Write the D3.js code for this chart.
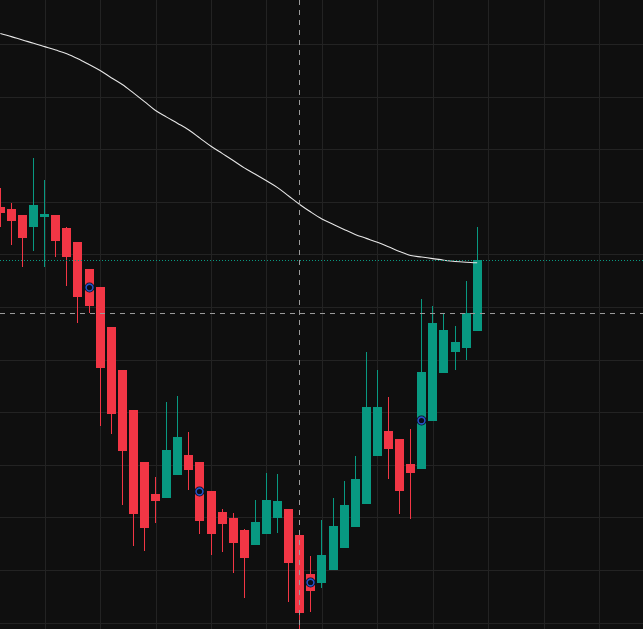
<!DOCTYPE html>
<html>
<head>
<meta charset="utf-8">
<script src="https://cdn.jsdelivr.net/npm/d3@7"></script>
<style>
  html, body { margin: 0; padding: 0; background: #0f0f0f; overflow: hidden; }
  svg { display: block; }
</style>
</head>
<body>
<svg id="chart" width="643" height="629"></svg>
<script>
// ---- data (bar index, OHLC, moving average) ----
const barIndex = d3.range(-1, 43);
const open  = [113.80,113.73,113.50,113.04,113.42,113.50,113.00,112.47,111.44,110.76,109.24,107.60,106.08,104.11,102.89,102.74,103.61,104.37,104.11,103.00,102.21,101.98,101.52,100.95,101.37,101.98,102.32,101.33,99.85,99.51,100.00,100.84,101.63,102.51,104.33,105.29,104.98,104.03,103.84,105.67,107.49,108.29,108.44,109.09];
const high  = [114.52,113.95,113.50,115.67,114.83,113.50,113.04,112.47,111.44,110.76,109.24,107.60,106.08,104.11,103.54,106.39,106.62,105.25,104.11,103.00,102.32,102.17,101.56,102.66,103.69,103.65,102.32,101.33,100.53,101.90,102.74,103.38,104.33,108.29,107.60,106.58,104.98,105.36,110.30,110.04,109.73,109.28,110.99,113.04];
const low   = [113.04,112.36,111.52,112.13,111.52,111.90,110.80,109.39,109.77,105.48,105.17,102.47,100.91,100.72,101.79,102.74,103.61,103.04,101.37,100.57,100.68,99.89,98.94,100.95,101.37,101.41,98.78,97.57,98.40,99.32,100.00,100.84,101.63,102.51,104.33,103.46,102.13,101.94,103.84,105.67,107.49,107.60,107.98,109.09];
const close = [113.57,113.27,112.62,113.88,113.54,112.51,111.90,110.38,110.04,107.68,105.93,104.52,102.13,101.60,102.62,104.56,105.06,103.80,101.86,101.37,101.75,101.03,100.46,101.83,102.66,102.62,100.27,98.37,99.20,100.57,101.67,102.47,103.46,106.20,106.20,104.60,103.00,103.69,107.53,109.39,109.13,108.67,109.77,111.79];
const ma    = [120.40,120.28,120.15,120.03,119.90,119.77,119.63,119.44,119.22,118.99,118.72,118.46,118.14,117.81,117.47,117.22,116.98,116.73,116.42,116.11,115.84,115.57,115.29,115.05,114.80,114.54,114.22,113.90,113.61,113.35,113.15,112.95,112.76,112.61,112.46,112.29,112.11,111.96,111.90,111.84,111.78,111.73,111.70,111.68];
const markerBars = [7, 17, 27, 37];
const priceTicks = d3.range(98, 121, 2);
const timeTicks = [3, 8, 13, 18, 23, 28, 33, 38, 43, 48, 53];
const crossBar = 26;
const crossPrice = 109.77;

// ---- setup ----
const W = 643, H = 629;
const svg = d3.select("#chart");
const x = d3.scaleLinear().domain([0, 42]).range([11.4, 477.18]);
const y = d3.scaleLinear().domain([121.673, 97.757]).range([0, H]);
const barW = 9;
const up = "#089981", down = "#f23645";

svg.append("rect").attr("width", W).attr("height", H).attr("fill", "#0f0f0f");

// grid
const grid = svg.append("g").attr("stroke", "#232323").attr("stroke-width", 1);
grid.selectAll(".hg").data(priceTicks).join("line")
  .attr("x1", 0).attr("x2", W)
  .attr("y1", d => Math.round(y(d)) + 0.5).attr("y2", d => Math.round(y(d)) + 0.5);
grid.selectAll(".vg").data(timeTicks).join("line")
  .attr("y1", 0).attr("y2", H)
  .attr("x1", d => Math.round(x(d)) + 0.5).attr("x2", d => Math.round(x(d)) + 0.5);

// candles
const bars = barIndex.map((b, k) => ({ b, o: open[k], h: high[k], l: low[k], c: close[k] }));
const left = d => Math.round(x(d.b) - barW / 2);
const cg = svg.append("g");
cg.selectAll(".wick").data(bars).join("line")
  .attr("x1", d => left(d) + 4.5).attr("x2", d => left(d) + 4.5)
  .attr("y1", d => Math.round(y(d.h))).attr("y2", d => Math.round(y(d.l)))
  .attr("stroke", d => d.c >= d.o ? up : down).attr("stroke-width", 1);
cg.selectAll(".body").data(bars).join("rect")
  .attr("x", d => left(d)).attr("width", barW)
  .attr("y", d => Math.round(y(Math.max(d.o, d.c))))
  .attr("height", d => Math.max(1, Math.round(y(Math.min(d.o, d.c))) - Math.round(y(Math.max(d.o, d.c)))))
  .attr("fill", d => d.c >= d.o ? up : down);

// moving average
const line = d3.line().x((d, k) => x(barIndex[k])).y(d => y(d)).curve(d3.curveCatmullRom.alpha(0.5));
svg.append("path").datum(ma).attr("d", line)
  .attr("fill", "none").attr("stroke", "#e6e6e6").attr("stroke-width", 1.1);

// last price dotted line
const lastClose = close[close.length - 1];
svg.append("line")
  .attr("x1", 0).attr("x2", W)
  .attr("y1", Math.round(y(lastClose)) + 0.5).attr("y2", Math.round(y(lastClose)) + 0.5)
  .attr("stroke", up).attr("stroke-width", 1).attr("stroke-dasharray", "1,2");

// markers
const mk = bars.filter(d => markerBars.includes(d.b));
svg.selectAll(".mk").data(mk).join("circle")
  .attr("cx", d => left(d) + 4.5).attr("cy", d => y((d.o + d.c) / 2))
  .attr("r", 5).attr("fill", "#0b0d18");
svg.selectAll(".mk2").data(mk).join("circle")
  .attr("cx", d => left(d) + 4.5).attr("cy", d => y((d.o + d.c) / 2))
  .attr("r", 3.4).attr("fill", "none").attr("stroke", "#2552c4").attr("stroke-width", 1.6);

// crosshair
const cb = bars.find(d => d.b === crossBar);
const cx = left(cb) + 4.5;
svg.append("line").attr("x1", cx).attr("x2", cx).attr("y1", 0).attr("y2", H)
  .attr("stroke", "#9a9a9a").attr("stroke-width", 1).attr("stroke-dasharray", "5,5");
svg.append("line").attr("x1", 0).attr("x2", W)
  .attr("y1", Math.round(y(crossPrice)) + 0.5).attr("y2", Math.round(y(crossPrice)) + 0.5)
  .attr("stroke", "#9a9a9a").attr("stroke-width", 1).attr("stroke-dasharray", "5,5");
</script>
</body>
</html>
